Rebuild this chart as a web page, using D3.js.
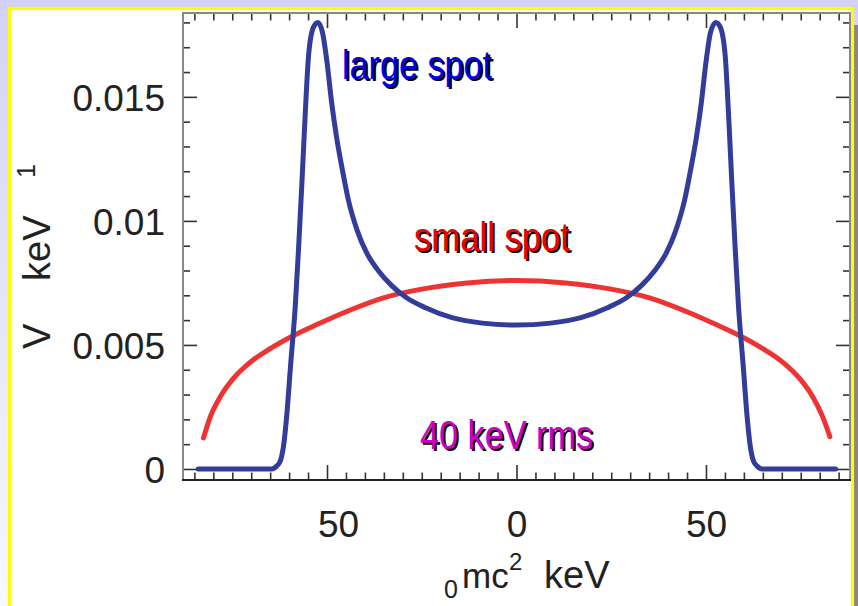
<!DOCTYPE html>
<html>
<head>
<meta charset="utf-8">
<script src="https://cdn.jsdelivr.net/npm/d3@7"></script>
<style>
  html, body { margin: 0; padding: 0; background: #fff; }
  svg { display: block; }
  text { font-family: "Liberation Sans", Arial, sans-serif; }
</style>
</head>
<body>
<div id="chart"></div>
<script>
// x ticks: majors every 50, minors every 5 (the minus glyph of -50 is missing in the original)
const xMajorTicks = [-50, 0, 50];
const xTickLabels = ["50", "0", "50"];
const xMinorTicks = [-85, -80, -75, -70, -65, -60, -55, -45, -40, -35, -30, -25, -20, -15, -10, -5,
                     5, 10, 15, 20, 25, 30, 35, 40, 45, 55, 60, 65, 70, 75, 80, 85];
const yMajorTicks = [0, 0.005, 0.01, 0.015];
const yTickLabels = ["0", "0.005", "0.01", "0.015"];
const yMinorTicks = [0.001, 0.002, 0.003, 0.004, 0.006, 0.007, 0.008, 0.009,
                     0.011, 0.012, 0.013, 0.014, 0.016, 0.017, 0.018];

// large spot (blue)
const largeSpotX = [-84, -70, -64.6, -63.2, -62.3, -61.5, -60.6, -59.6, -58.4, -57.5, -56.6, -55.75,
  -54.9, -53.6, -52.4, -51.2, -50, -48.8, -47.5, -46, -44.3, -42, -39.5, -36.5, -33, -29, -24, -17, -9,
  0, 9, 17, 24, 29, 33, 36.5, 39.5, 42, 44.3, 46, 47.5, 48.8, 50, 51.2, 52.6, 53.8, 55.1, 55.95,
  56.8, 57.7, 58.6, 59.8, 60.8, 61.7, 62.5, 63.4, 64.8, 70, 84.2];
const largeSpotY = [0, 0, 0, 0.00013, 0.00033, 0.0009, 0.0022, 0.0042, 0.0065, 0.0089, 0.0116, 0.0143,
  0.0166, 0.0178, 0.0180, 0.0176, 0.0164, 0.0148, 0.0134, 0.0121, 0.0108, 0.0096, 0.0087, 0.0080, 0.0074, 0.0069, 0.0065, 0.0061, 0.00588,
  0.0058, 0.00588, 0.0061, 0.0065, 0.0069, 0.0074, 0.0080, 0.0087, 0.0096, 0.0108, 0.0121, 0.0134, 0.0148, 0.0164, 0.0176, 0.0180, 0.0178,
  0.0166, 0.0143, 0.0116, 0.0089, 0.0065, 0.0042, 0.0022, 0.0009, 0.00033, 0.00013, 0, 0, 0];

// small spot (red)
const smallSpotX = [-82.6, -80.8, -78.2, -74.7, -70.3, -65, -58.8, -52.7, -45.6, -35.1, -25, -13,
  0, 13, 25, 35.1, 45.6, 52.7, 58.8, 65, 70.3, 74.7, 78.2, 80.8, 82.7];
const smallSpotY = [0.00125, 0.0021, 0.0029, 0.00365, 0.0043, 0.00485, 0.00538, 0.00582, 0.0063, 0.0069, 0.00725, 0.0075,
  0.0076, 0.0075, 0.00725, 0.0069, 0.0063, 0.00582, 0.00538, 0.00485, 0.0043, 0.00365, 0.0029, 0.0021, 0.0013];

const W = 858, H = 606;
const plotL = 183, plotR = 850, plotT = 13, plotB = 480;

const svg = d3.select("#chart").append("svg").attr("width", W).attr("height", H);

// page background: lavender fade, yellow frame, grey shadow on the right
const defs = svg.append("defs");
const grad = defs.append("linearGradient").attr("id", "bg").attr("x1", 0).attr("y1", 0).attr("x2", 0).attr("y2", 1);
grad.append("stop").attr("offset", 0).attr("stop-color", "#d2d2f7");
grad.append("stop").attr("offset", 1).attr("stop-color", "#f8f8fe");
svg.append("rect").attr("width", W).attr("height", H).attr("fill", "url(#bg)");
svg.append("rect").attr("x", 854).attr("y", 25).attr("width", 4).attr("height", H).attr("fill", "#888");
svg.append("rect")
  .attr("x", 9.5).attr("y", 8.5).attr("width", 843).attr("height", 640)
  .attr("fill", "#fff").attr("stroke", "#ffff00").attr("stroke-width", 3.2);

const x = d3.scaleLinear().domain([-88, 88]).range([plotL, plotR]);
const y = d3.scaleLinear().domain([-0.000444, 0.01838]).range([plotB, plotT]);

function styleTicks(g, col) {
  g.select(".domain").remove();
  g.selectAll(".tick line").attr("stroke", col).attr("stroke-width", 1.6);
  g.selectAll(".tick text").remove();
}

// tick marks, all pointing into the plot
const tickCol = "#333";
svg.append("g").attr("transform", `translate(0,${plotB})`)
  .call(d3.axisTop(x).tickValues(xMinorTicks).tickSize(7.5)).call(styleTicks, tickCol);
svg.append("g").attr("transform", `translate(0,${plotB})`)
  .call(d3.axisTop(x).tickValues(xMajorTicks).tickSize(15)).call(styleTicks, tickCol);
svg.append("g").attr("transform", `translate(0,${plotT})`)
  .call(d3.axisBottom(x).tickValues(xMinorTicks).tickSize(7.5)).call(styleTicks, tickCol);
svg.append("g").attr("transform", `translate(0,${plotT})`)
  .call(d3.axisBottom(x).tickValues(xMajorTicks).tickSize(15)).call(styleTicks, tickCol);
svg.append("g").attr("transform", `translate(${plotL},0)`)
  .call(d3.axisRight(y).tickValues(yMinorTicks).tickSize(7)).call(styleTicks, tickCol);
svg.append("g").attr("transform", `translate(${plotL},0)`)
  .call(d3.axisRight(y).tickValues(yMajorTicks).tickSize(14)).call(styleTicks, tickCol);
svg.append("g").attr("transform", `translate(${plotR},0)`)
  .call(d3.axisLeft(y).tickValues(yMinorTicks).tickSize(7)).call(styleTicks, tickCol);
svg.append("g").attr("transform", `translate(${plotR},0)`)
  .call(d3.axisLeft(y).tickValues(yMajorTicks).tickSize(14)).call(styleTicks, tickCol);

// frame
svg.append("path")
  .attr("d", `M${plotL},${plotB}V${plotT}H${plotR}V${plotB}`)
  .attr("fill", "none").attr("stroke", "#888").attr("stroke-width", 2);
svg.append("line")
  .attr("x1", plotL - 1).attr("x2", plotR + 1).attr("y1", plotB).attr("y2", plotB)
  .attr("stroke", "#222").attr("stroke-width", 2);

// tick labels
const yLab = svg.append("g").attr("transform", `translate(${plotL},0)`)
  .call(d3.axisLeft(y).tickValues(yMajorTicks).tickSize(0).tickPadding(18)
    .tickFormat((d, i) => yTickLabels[i]));
yLab.select(".domain").remove();
yLab.selectAll("text").attr("font-size", 37).attr("fill", "#222")
  .attr("font-family", "Liberation Sans, Arial, sans-serif").attr("dy", "0.36em");

const xLab = svg.append("g").attr("transform", `translate(0,${plotB})`)
  .call(d3.axisBottom(x).tickValues(xMajorTicks).tickSize(0).tickPadding(0)
    .tickFormat((d, i) => xTickLabels[i]));
xLab.select(".domain").remove();
xLab.selectAll("text").attr("font-size", 37).attr("fill", "#222")
  .attr("font-family", "Liberation Sans, Arial, sans-serif")
  .attr("y", 57).attr("dy", 0)
  .attr("dx", d => d < 0 ? 11 : 0);

// axis titles
const xt = svg.append("text").attr("fill", "#222").attr("font-size", 38);
xt.append("tspan").attr("x", 444).attr("y", 598).attr("font-size", 25).text("0");
xt.append("tspan").attr("x", 462).attr("y", 588).attr("font-size", 35).text("mc");
xt.append("tspan").attr("x", 509).attr("y", 570).attr("font-size", 24).text("2");
xt.append("tspan").attr("x", 544).attr("y", 588).text("keV");

const yt = svg.append("text").attr("fill", "#222").attr("font-size", 38)
  .attr("transform", "translate(50,349) rotate(-90)");
yt.append("tspan").attr("x", 0).attr("y", 0).text("V");
yt.append("tspan").attr("x", 68).attr("y", 0).text("keV");
yt.append("tspan").attr("x", 171).attr("y", -15).attr("font-size", 25).text("1");

// curves
const line = d3.line().x(d => x(d[0])).y(d => y(d[1])).curve(d3.curveMonotoneX);
svg.append("path")
  .datum(smallSpotX.map((v, i) => [v, smallSpotY[i]]))
  .attr("d", line).attr("fill", "none").attr("stroke", "#ee3333")
  .attr("stroke-width", 5).attr("stroke-linecap", "round").attr("stroke-linejoin", "round");
svg.append("path")
  .datum(largeSpotX.map((v, i) => [v, largeSpotY[i]]))
  .attr("d", line).attr("fill", "none").attr("stroke", "#323c9a")
  .attr("stroke-width", 5).attr("stroke-linecap", "round").attr("stroke-linejoin", "round");

// curve labels with drop shadow, condensed type
function shadowLabel(str, px, py, len, col) {
  const g = svg.append("g").attr("font-size", 40)
    .attr("font-family", "Liberation Sans Narrow, Liberation Sans, Arial, sans-serif");
  g.append("text").attr("x", px + 2).attr("y", py + 2).attr("fill", "#000")
    .attr("textLength", len).attr("lengthAdjust", "spacingAndGlyphs").text(str);
  g.append("text").attr("x", px).attr("y", py).attr("fill", col)
    .attr("textLength", len).attr("lengthAdjust", "spacingAndGlyphs").text(str);
}
shadowLabel("large spot", 342, 79, 150, "#0000ee");
shadowLabel("small spot", 414, 251, 156, "#ee0000");
shadowLabel("40 keV rms", 420, 449, 173, "#cc00cc");
</script>
</body>
</html>
